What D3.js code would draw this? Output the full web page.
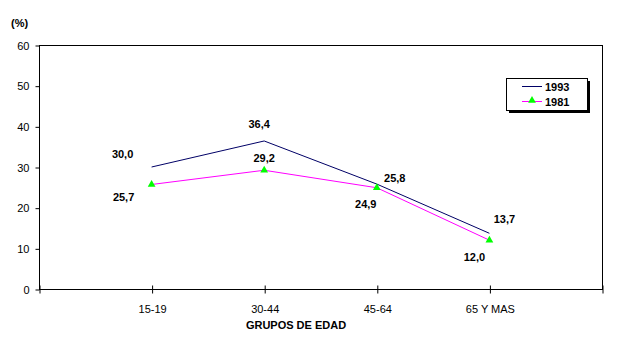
<!DOCTYPE html>
<html><head><meta charset="utf-8">
<script src="https://cdn.jsdelivr.net/npm/d3@7"></script>
<style>
body{margin:0;background:#fff;}
svg{display:block;font-family:"Liberation Sans",Arial,sans-serif;}
</style></head><body>
<svg id="c" width="636" height="341"></svg>
<script>
const categories = ["15-19","30-44","45-64","65 Y MAS"];
const series1993 = [30.0, 36.4, 25.8, 13.7];
const series1981 = [25.7, 29.2, 24.9, 12.0];
const labels1993 = ["30,0","36,4","25,8","13,7"];
const labels1981 = ["25,7","29,2","24,9","12,0"];
const yTicks = [0,10,20,30,40,50,60];
// label offsets (layout) relative to points
const off1993 = [[-29,-9],[-5,-13],[18,-2],[15,-10]];
const off1981 = [[-28,17],[0,-8],[-11,20],[-15,21]];

const svg = d3.select("#c");
const L=39, R=602, T=45, B=289;
const x = d3.scaleLinear().domain([0,5]).range([L,R]);
const y = d3.scaleLinear().domain([0,60]).range([B,T]);
const xi = i => x(i+1);

// frame
svg.append("rect").attr("x",L+0.5).attr("y",T+0.5).attr("width",R-L).attr("height",B-T)
  .attr("fill","none").attr("stroke","#000").attr("stroke-width",1);

// y axis
const ya = svg.append("g").attr("transform",`translate(${L+0.5},0.5)`)
  .call(d3.axisLeft(y).tickValues(yTicks).tickSize(4).tickPadding(6).tickFormat(d3.format("d")));
ya.select(".domain").remove();
ya.selectAll("line").attr("stroke","#000");
ya.selectAll("text").attr("font-size","11px").attr("fill","#000").attr("font-family","Liberation Sans, Arial, sans-serif");

// x axis
const xa = svg.append("g").attr("transform",`translate(0.5,${B+0.5})`)
  .call(d3.axisBottom(x).tickValues([0,1,2,3,4,5]).tickSize(4).tickPadding(12)
    .tickFormat(d => (d>=1 && d<=4) ? categories[d-1] : ""));
xa.select(".domain").remove();
xa.selectAll("line").attr("stroke","#000").attr("y1",-4);
xa.selectAll("text").attr("font-size","11px").attr("fill","#000").attr("font-family","Liberation Sans, Arial, sans-serif");

// titles
svg.append("text").attr("x",11).attr("y",27).attr("font-size","11px").attr("font-weight","bold").text("(%)");
svg.append("text").attr("x",296).attr("y",329).attr("text-anchor","middle").attr("font-size","11px").attr("font-weight","bold").text("GRUPOS DE EDAD");

const line = d3.line().x((d,i)=>xi(i)).y(d=>y(d));
svg.append("path").datum(series1993).attr("d",line).attr("fill","none").attr("stroke","#000066").attr("stroke-width",1);
svg.append("path").datum(series1981).attr("d",line).attr("fill","none").attr("stroke","#ff00ff").attr("stroke-width",1);

const tri = d3.symbol().type(d3.symbolTriangle).size(26);
svg.selectAll(".m").data(series1981).enter().append("path")
  .attr("transform",(d,i)=>`translate(${xi(i)},${y(d)})`).attr("d",tri).attr("fill","#00ff00");

function addLabels(vals, labs, offs){
  svg.selectAll(null).data(vals).enter().append("text")
    .attr("x",(d,i)=>xi(i)+offs[i][0]).attr("y",(d,i)=>y(d)+offs[i][1])
    .attr("text-anchor","middle").attr("font-size","11px").attr("font-weight","bold")
    .text((d,i)=>labs[i]);
}
addLabels(series1993, labels1993, off1993);
addLabels(series1981, labels1981, off1981);

// legend
const lg = svg.append("g");
lg.append("rect").attr("x",509).attr("y",81).attr("width",81).attr("height",32).attr("fill","#000");
lg.append("rect").attr("x",506.5).attr("y",78.5).attr("width",81).attr("height",32).attr("fill","#fff").attr("stroke","#000");
lg.append("line").attr("x1",522).attr("x2",542).attr("y1",86.5).attr("y2",86.5).attr("stroke","#000066");
lg.append("line").attr("x1",522).attr("x2",542).attr("y1",101.5).attr("y2",101.5).attr("stroke","#ff00ff");
lg.append("path").attr("transform","translate(532,100.5)").attr("d",tri).attr("fill","#00ff00");
lg.append("text").attr("x",545).attr("y",90.5).attr("font-size","11px").attr("font-weight","bold").text("1993");
lg.append("text").attr("x",545).attr("y",105.5).attr("font-size","11px").attr("font-weight","bold").text("1981");
</script>
</body></html>
